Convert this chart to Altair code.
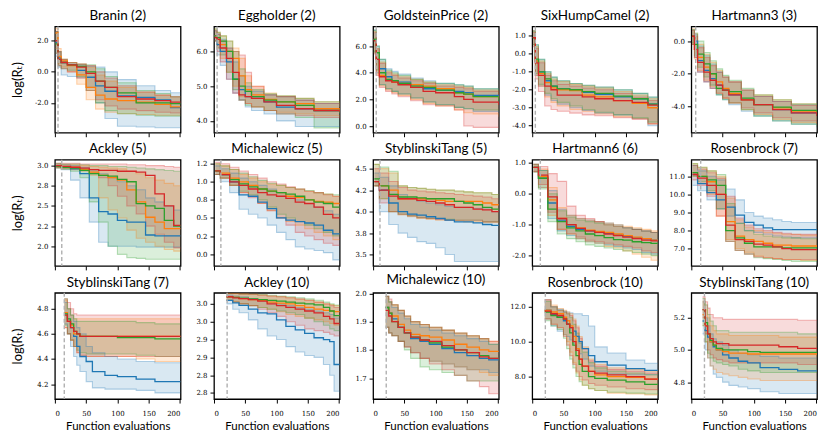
import altair as alt
import pandas as pd

SERIES = ["blue", "orange", "green", "red"]
COLORS = ["#1f77b4", "#ff7f0e", "#2ca02c", "#d62728"]

TITLES = ["Branin (2)", "Eggholder (2)", "GoldsteinPrice (2)", "SixHumpCamel (2)", "Hartmann3 (3)",
          "Ackley (5)", "Michalewicz (5)", "StyblinskiTang (5)", "Hartmann6 (6)", "Rosenbrock (7)",
          "StyblinskiTang (7)", "Ackley (10)", "Michalewicz (10)", "Rosenbrock (10)", "StyblinskiTang (10)"]
INIT = [5, 5, 5, 5, 7, 11, 11, 11, 13, 15, 15, 21, 21, 21, 21]
YDOM = [[-3.92, 2.92], [3.66, 6.72], [-0.5, 7.47], [-4.39, 1.52], [-5.62, 0.9],
        [1.757, 3.074], [-0.163, 1.306], [3.368, 4.605], [-2.33, 1.1], [6.05, 11.92],
        [4.081, 4.927], [2.733, 3.031], [1.626, 2.002], [6.71, 12.8], [4.695, 5.355]]
YTICKS = [[2, 0, -2], [6, 5, 4], [6, 4, 2, 0], [1, 0, -1, -2, -3, -4], [0, -2, -4],
          [3.0, 2.75, 2.5, 2.25, 2.0], [1.25, 1.0, 0.75, 0.5, 0.25, 0.0], [4.5, 4.25, 4.0, 3.75, 3.5],
          [1, 0, -1, -2], [11, 10, 9, 8, 7],
          [4.8, 4.6, 4.4, 4.2], [3.0, 2.95, 2.9, 2.85, 2.8, 2.75], [2.0, 1.9, 1.8, 1.7], [12, 10, 8], [5.2, 5.0, 4.8]]
YLABELS = [["2.0", "0.0", "-2.0"], ["6.0", "5.0", "4.0"], ["6.0", "4.0", "2.0", "0.0"],
           ["1.0", "0.0", "-1.0", "-2.0", "-3.0", "-4.0"], ["0.0", "-2.0", "-4.0"],
           ["3.0", "2.8", "2.5", "2.2", "2.0"], ["1.2", "1.0", "0.8", "0.5", "0.2", "0.0"],
           ["4.5", "4.2", "4.0", "3.8", "3.5"], ["1.0", "0.0", "-1.0", "-2.0"],
           ["11.0", "10.0", "9.0", "8.0", "7.0"],
           ["4.8", "4.6", "4.4", "4.2"], ["3.0", "3.0", "2.9", "2.9", "2.8", "2.8"],
           ["2.0", "1.9", "1.8", "1.7"], ["12.0", "10.0", "8.0"], ["5.2", "5.0", "4.8"]]
XTICKS = [0, 50, 100, 150, 200]
X_LABEL = "Function evaluations"
Y_LABEL = "log(Rₜ)"

# ---- per-panel step data: x grid, then [blue, orange, green, red] ----
branin_x = [1, 5, 10, 20, 35, 50, 65, 80, 100, 130, 160, 185, 201]
branin_med = [[1.9, 0.9, 0.6, 0.45, 0.1, -0.35, -0.9, -1.25, -1.55, -1.65, -1.8, -2.3, -2.3],
              [2.5, 1.0, 0.7, 0.4, -0.2, -1.0, -1.5, -1.75, -1.85, -1.95, -2.1, -2.25, -2.25],
              [1.8, 0.8, 0.6, 0.45, 0.35, 0.0, -0.6, -1.0, -1.35, -2.0, -2.0, -2.05, -2.05],
              [2.0, 0.8, 0.6, 0.45, 0.3, -0.1, -0.6, -1.0, -1.6, -1.75, -1.85, -1.95, -1.95]]
branin_lo = [[1.0, 0.3, -0.2, -0.3, -0.4, -1.0, -2.0, -3.0, -3.5, -3.55, -3.6, -3.6, -3.6],
             [1.5, 0.5, 0.3, 0.0, -0.8, -1.8, -2.4, -2.6, -2.7, -2.75, -2.8, -2.8, -2.8],
             [1.2, 0.4, 0.2, 0.1, -0.3, -1.2, -2.0, -2.5, -2.7, -2.8, -2.85, -2.85, -2.85],
             [1.2, 0.4, 0.2, 0.0, -0.4, -1.2, -1.8, -2.2, -2.4, -2.5, -2.6, -2.65, -2.65]]
branin_hi = [[2.6, 1.3, 0.7, 0.5, 0.45, 0.35, 0.3, 0.0, -0.5, -0.9, -1.2, -1.35, -1.35],
             [2.8, 1.5, 0.8, 0.6, 0.5, 0.3, -0.2, -0.6, -1.0, -1.3, -1.5, -1.6, -1.6],
             [2.6, 1.3, 0.8, 0.6, 0.5, 0.45, 0.2, -0.3, -0.7, -1.2, -1.4, -1.6, -1.6],
             [2.6, 1.3, 0.8, 0.6, 0.5, 0.4, 0.0, -0.4, -0.9, -1.3, -1.5, -1.6, -1.6]]

egg_x = [1, 5, 10, 20, 30, 40, 50, 60, 80, 100, 130, 160, 201]
egg_med = [[6.45, 6.2, 6.0, 5.7, 5.2, 4.9, 4.7, 4.65, 4.55, 4.4, 4.35, 4.3, 4.22],
           [6.45, 6.4, 6.2, 6.0, 5.8, 5.3, 4.9, 4.75, 4.62, 4.55, 4.5, 4.35, 4.25],
           [6.45, 6.4, 6.3, 6.0, 5.2, 5.0, 4.85, 4.7, 4.6, 4.55, 4.45, 4.3, 4.22],
           [6.4, 6.35, 6.1, 5.8, 5.4, 4.75, 4.7, 4.65, 4.55, 4.45, 4.35, 4.3, 4.25]]
egg_lo = [[6.3, 5.9, 5.6, 5.2, 4.8, 4.6, 4.4, 4.3, 4.2, 4.0, 3.84, 3.84, 3.84],
          [6.3, 6.1, 5.8, 5.4, 5.0, 4.7, 4.5, 4.4, 4.3, 4.25, 4.2, 4.15, 4.1],
          [6.3, 6.1, 5.9, 5.4, 4.9, 4.6, 4.45, 4.4, 4.3, 4.2, 4.1, 3.8, 3.8],
          [6.3, 6.0, 5.7, 5.2, 4.8, 4.6, 4.5, 4.4, 4.3, 4.2, 4.15, 4.1, 4.05]]
egg_hi = [[6.6, 6.5, 6.35, 6.1, 5.7, 5.3, 5.0, 4.85, 4.75, 4.7, 4.6, 4.5, 4.4],
          [6.65, 6.55, 6.45, 6.3, 6.1, 5.8, 5.3, 5.0, 4.8, 4.72, 4.65, 4.55, 4.4],
          [6.65, 6.55, 6.45, 6.3, 6.0, 5.5, 5.1, 4.9, 4.78, 4.72, 4.65, 4.55, 4.4],
          [6.6, 6.5, 6.3, 6.1, 6.0, 5.9, 5.4, 5.0, 4.75, 4.7, 4.6, 4.5, 4.4]]

gp_x = [1, 5, 10, 20, 30, 40, 60, 80, 100, 130, 145, 160, 201]
gp_med = [[6.5, 5.0, 4.3, 3.7, 3.4, 3.3, 3.1, 2.8, 2.7, 2.6, 2.5, 2.3, 2.0],
          [6.5, 5.0, 3.8, 3.5, 3.3, 3.2, 3.1, 3.0, 2.8, 2.5, 2.4, 2.2, 2.0],
          [6.5, 5.5, 4.0, 3.5, 3.4, 3.2, 3.0, 2.9, 2.7, 2.5, 2.4, 2.2, 1.9],
          [6.4, 5.0, 3.7, 3.4, 3.3, 3.1, 2.9, 2.6, 2.5, 2.2, 2.0, 1.8, 1.6]]
gp_lo = [[5.5, 4.0, 3.1, 2.8, 2.6, 2.4, 2.1, 1.8, 1.6, 1.4, 1.3, 1.1, 1.0],
         [5.5, 3.9, 3.0, 2.7, 2.5, 2.3, 2.0, 1.7, 1.5, 1.2, 1.0, 0.9, 0.7],
         [5.6, 4.2, 3.1, 2.8, 2.6, 2.4, 2.1, 1.8, 1.6, 1.4, 1.3, 1.2, 1.1],
         [5.4, 3.8, 2.9, 2.6, 2.4, 2.2, 1.9, 1.6, 1.5, 1.2, 0.0, -0.1, -0.1]]
gp_hi = [[7.2, 6.0, 5.0, 4.3, 4.1, 3.9, 3.6, 3.4, 3.2, 3.1, 3.0, 2.8, 2.5],
         [7.1, 5.8, 4.8, 4.1, 3.9, 3.7, 3.5, 3.3, 3.1, 3.0, 2.9, 2.7, 2.4],
         [7.2, 6.0, 5.0, 4.2, 4.0, 3.8, 3.5, 3.3, 3.2, 3.1, 3.0, 2.8, 2.5],
         [7.0, 5.8, 4.7, 4.0, 3.8, 3.6, 3.4, 3.2, 3.0, 2.9, 2.8, 2.6, 2.3]]

shc_x = [1, 5, 10, 20, 30, 40, 60, 80, 100, 130, 160, 185, 201]
shc_med = [[0.9, -0.4, -1.0, -1.5, -1.8, -1.95, -2.0, -2.15, -2.25, -2.4, -2.5, -2.8, -2.8],
           [0.9, -0.4, -1.1, -1.6, -1.9, -2.0, -2.05, -2.3, -2.4, -2.6, -2.75, -3.0, -3.0],
           [0.9, -0.3, -1.0, -1.4, -1.8, -1.95, -2.0, -2.1, -2.2, -2.35, -2.5, -2.8, -2.8],
           [0.9, -0.5, -1.2, -1.8, -2.0, -2.3, -2.3, -2.4, -2.5, -2.6, -2.7, -2.85, -2.85]]
shc_lo = [[0.5, -1.2, -1.8, -2.3, -2.6, -2.8, -3.0, -3.15, -3.3, -3.4, -3.6, -4.0, -4.0],
          [0.5, -1.2, -1.8, -2.4, -2.7, -2.9, -3.1, -3.2, -3.35, -3.5, -3.6, -3.9, -3.9],
          [0.5, -1.1, -1.7, -2.2, -2.5, -2.7, -2.9, -3.1, -3.25, -3.4, -3.55, -3.8, -3.8],
          [0.4, -1.4, -2.1, -2.9, -3.1, -3.2, -3.3, -3.4, -3.45, -3.55, -3.65, -3.9, -3.9]]
shc_hi = [[1.3, 0.5, -0.3, -1.0, -1.3, -1.5, -1.65, -1.75, -1.85, -2.0, -2.2, -2.4, -2.4],
          [1.3, 0.4, -0.4, -1.1, -1.4, -1.55, -1.7, -1.8, -1.9, -2.1, -2.3, -2.5, -2.5],
          [1.25, 0.5, -0.3, -1.0, -1.3, -1.5, -1.65, -1.75, -1.85, -2.0, -2.2, -2.4, -2.4],
          [1.2, 0.3, -0.5, -1.2, -1.5, -1.7, -1.8, -1.9, -2.0, -2.2, -2.4, -2.6, -2.6]]

h3_x = [1, 5, 10, 20, 30, 40, 50, 60, 80, 100, 130, 160, 201]
h3_med = [[0.3, 0.0, -1.2, -1.8, -2.3, -2.7, -3.0, -3.3, -3.6, -3.9, -4.2, -4.4, -4.55],
          [0.3, -0.5, -1.0, -1.6, -2.0, -2.5, -2.9, -3.2, -3.6, -3.9, -4.1, -4.3, -4.5],
          [0.3, -0.2, -0.8, -1.4, -2.0, -2.9, -3.0, -3.1, -3.5, -3.9, -4.05, -4.25, -4.45],
          [0.3, -0.5, -1.3, -1.9, -2.4, -2.7, -3.0, -3.3, -3.6, -3.9, -4.2, -4.4, -4.6]]
h3_lo = [[-0.2, -1.0, -1.9, -2.5, -2.9, -3.3, -3.6, -3.9, -4.3, -4.6, -4.9, -5.1, -5.3],
         [-0.2, -1.1, -1.8, -2.4, -2.8, -3.2, -3.5, -3.8, -4.2, -4.5, -4.8, -5.0, -5.2],
         [-0.1, -0.9, -1.6, -2.2, -2.7, -3.3, -3.6, -3.8, -4.2, -4.6, -4.9, -5.1, -5.25],
         [-0.2, -1.0, -1.9, -2.5, -2.9, -3.2, -3.5, -3.8, -4.1, -4.4, -4.7, -4.9, -5.1]]
h3_hi = [[0.7, 0.4, -0.3, -0.9, -1.4, -1.9, -2.2, -2.5, -3.0, -3.4, -3.7, -3.9, -4.1],
         [0.75, 0.45, -0.2, -0.8, -1.3, -1.8, -2.2, -2.5, -3.0, -3.3, -3.6, -3.85, -4.05],
         [0.7, 0.5, 0.0, -0.7, -1.2, -1.7, -2.1, -2.4, -2.9, -3.3, -3.6, -3.85, -4.0],
         [0.65, 0.3, -0.4, -1.0, -1.5, -1.9, -2.2, -2.5, -3.0, -3.4, -3.7, -3.95, -4.15]]

ack5_x = [2, 10, 25, 40, 55, 70, 85, 100, 115, 130, 145, 160, 175, 190, 201]
ack5_med = [[2.99, 2.98, 2.96, 2.9, 2.6, 2.43, 2.4, 2.32, 2.3, 2.3, 2.14, 2.13, 2.13, 2.13, 2.13],
            [2.99, 2.98, 2.98, 2.95, 2.92, 2.88, 2.85, 2.82, 2.7, 2.55, 2.36, 2.3, 2.22, 2.22, 2.22],
            [2.99, 2.98, 2.97, 2.94, 2.9, 2.88, 2.87, 2.83, 2.8, 2.53, 2.5, 2.47, 2.32, 2.25, 2.25],
            [3.0, 2.99, 2.98, 2.97, 2.95, 2.94, 2.94, 2.93, 2.93, 2.92, 2.88, 2.65, 2.5, 2.26, 2.26]]
ack5_lo = [[2.97, 2.95, 2.82, 2.6, 2.3, 2.05, 2.0, 2.0, 2.0, 1.99, 1.99, 1.99, 1.99, 1.99, 1.99],
           [2.97, 2.96, 2.95, 2.93, 2.88, 2.6, 2.45, 2.35, 2.2, 2.1, 2.05, 2.0, 1.96, 1.94, 1.94],
           [2.97, 2.96, 2.93, 2.85, 2.55, 2.3, 2.0, 1.9, 1.86, 1.85, 1.84, 1.84, 1.84, 1.84, 1.84],
           [2.98, 2.97, 2.96, 2.94, 2.9, 2.85, 2.75, 2.62, 2.5, 2.4, 2.25, 2.15, 2.05, 1.98, 1.96]]
ack5_hi = [[3.02, 3.01, 3.0, 2.98, 2.95, 2.9, 2.85, 2.8, 2.75, 2.7, 2.6, 2.55, 2.5, 2.45, 2.45],
           [3.02, 3.01, 3.01, 3.0, 2.99, 2.98, 2.97, 2.96, 2.93, 2.9, 2.85, 2.82, 2.78, 2.75, 2.75],
           [3.03, 3.02, 3.02, 3.01, 3.0, 3.0, 2.99, 2.99, 2.98, 2.97, 2.96, 2.95, 2.94, 2.93, 2.93],
           [3.03, 3.03, 3.03, 3.02, 3.02, 3.02, 3.02, 3.02, 3.01, 3.01, 3.0, 3.0, 2.99, 2.98, 2.98]]

mic5_x = [2, 10, 25, 40, 55, 70, 85, 100, 115, 130, 145, 160, 175, 190, 201]
mic5_med = [[1.15, 1.1, 1.0, 0.82, 0.8, 0.72, 0.63, 0.5, 0.47, 0.45, 0.43, 0.4, 0.33, 0.28, 0.28],
            [1.15, 1.12, 1.05, 1.0, 0.95, 0.9, 0.87, 0.85, 0.8, 0.78, 0.75, 0.73, 0.72, 0.7, 0.7],
            [1.15, 1.1, 1.03, 0.97, 0.93, 0.9, 0.87, 0.85, 0.83, 0.8, 0.75, 0.72, 0.7, 0.65, 0.65],
            [1.15, 1.1, 1.0, 0.95, 0.9, 0.85, 0.82, 0.8, 0.77, 0.72, 0.7, 0.65, 0.55, 0.5, 0.5]]
mic5_lo = [[1.1, 1.0, 0.85, 0.62, 0.55, 0.5, 0.4, 0.3, 0.2, 0.1, 0.07, 0.05, 0.02, -0.08, -0.08],
           [1.1, 1.05, 0.95, 0.85, 0.8, 0.7, 0.6, 0.5, 0.45, 0.4, 0.35, 0.3, 0.25, 0.2, 0.2],
           [1.1, 1.05, 0.95, 0.87, 0.82, 0.75, 0.65, 0.55, 0.5, 0.45, 0.4, 0.35, 0.3, 0.25, 0.25],
           [1.1, 1.05, 0.95, 0.85, 0.78, 0.7, 0.6, 0.5, 0.4, 0.3, 0.25, 0.2, 0.15, 0.12, 0.12]]
mic5_hi = [[1.22, 1.18, 1.12, 1.05, 1.0, 0.95, 0.9, 0.85, 0.8, 0.75, 0.7, 0.65, 0.6, 0.55, 0.55],
           [1.25, 1.22, 1.17, 1.1, 1.05, 1.0, 0.97, 0.95, 0.92, 0.9, 0.87, 0.85, 0.83, 0.8, 0.8],
           [1.25, 1.22, 1.17, 1.12, 1.07, 1.02, 0.98, 0.95, 0.92, 0.9, 0.88, 0.85, 0.83, 0.82, 0.82],
           [1.27, 1.25, 1.2, 1.15, 1.1, 1.05, 1.0, 0.97, 0.93, 0.9, 0.87, 0.85, 0.82, 0.8, 0.8]]

st5_x = [2, 10, 25, 40, 55, 70, 85, 100, 115, 130, 145, 160, 175, 190, 201]
st5_med = [[4.35, 4.25, 4.1, 4.0, 3.97, 3.96, 3.94, 3.92, 3.9, 3.88, 3.88, 3.87, 3.85, 3.84, 3.84],
           [4.35, 4.3, 4.25, 4.15, 4.15, 4.15, 4.15, 4.13, 4.12, 4.12, 4.12, 4.12, 4.1, 4.08, 4.08],
           [4.38, 4.3, 4.2, 4.17, 4.17, 4.16, 4.15, 4.15, 4.15, 4.12, 4.1, 4.08, 4.05, 4.03, 4.03],
           [4.35, 4.25, 4.18, 4.15, 4.15, 4.13, 4.12, 4.1, 4.08, 4.05, 4.05, 4.03, 4.02, 4.0, 4.0]]
st5_lo = [[4.3, 4.0, 3.85, 3.75, 3.7, 3.65, 3.63, 3.58, 3.5, 3.42, 3.42, 3.42, 3.42, 3.42, 3.42],
          [4.3, 4.15, 4.0, 3.96, 3.94, 3.92, 3.91, 3.9, 3.9, 3.89, 3.88, 3.88, 3.87, 3.87, 3.87],
          [4.3, 4.15, 4.0, 3.97, 3.95, 3.93, 3.92, 3.92, 3.91, 3.9, 3.9, 3.9, 3.88, 3.88, 3.88],
          [4.3, 4.1, 4.0, 3.97, 3.95, 3.93, 3.92, 3.91, 3.9, 3.9, 3.9, 3.9, 3.88, 3.88, 3.88]]
st5_hi = [[4.45, 4.4, 4.3, 4.2, 4.15, 4.12, 4.1, 4.08, 4.06, 4.05, 4.05, 4.04, 4.03, 4.0, 4.0],
          [4.55, 4.5, 4.45, 4.3, 4.28, 4.27, 4.26, 4.25, 4.25, 4.24, 4.23, 4.22, 4.22, 4.2, 4.2],
          [4.55, 4.52, 4.47, 4.3, 4.28, 4.27, 4.26, 4.25, 4.25, 4.24, 4.23, 4.22, 4.22, 4.2, 4.2],
          [4.5, 4.45, 4.35, 4.28, 4.25, 4.24, 4.23, 4.22, 4.21, 4.2, 4.19, 4.18, 4.17, 4.15, 4.15]]

h6_x = [2, 10, 25, 40, 55, 70, 85, 100, 115, 130, 145, 160, 175, 190, 201]
h6_med = [[0.85, 0.5, -0.3, -0.85, -1.05, -1.15, -1.2, -1.25, -1.28, -1.32, -1.38, -1.42, -1.45, -1.5, -1.5],
          [0.85, 0.55, -0.2, -0.8, -1.0, -1.1, -1.18, -1.22, -1.25, -1.3, -1.35, -1.4, -1.45, -1.5, -1.5],
          [0.85, 0.5, -0.5, -0.9, -1.1, -1.2, -1.3, -1.35, -1.42, -1.48, -1.5, -1.55, -1.58, -1.6, -1.6],
          [0.85, 0.6, -0.1, -0.8, -1.0, -1.12, -1.2, -1.25, -1.3, -1.35, -1.4, -1.45, -1.5, -1.52, -1.52]]
h6_lo = [[0.7, 0.2, -0.8, -1.2, -1.35, -1.45, -1.55, -1.6, -1.65, -1.7, -1.75, -1.8, -1.9, -1.95, -1.95],
         [0.7, 0.2, -0.7, -1.15, -1.3, -1.45, -1.55, -1.6, -1.7, -1.75, -1.85, -1.95, -2.05, -2.15, -2.15],
         [0.7, 0.15, -0.9, -1.3, -1.45, -1.55, -1.65, -1.7, -1.75, -1.8, -1.85, -1.9, -1.95, -2.0, -2.0],
         [0.72, 0.3, -0.6, -1.15, -1.3, -1.4, -1.5, -1.55, -1.6, -1.65, -1.7, -1.75, -1.85, -1.9, -1.9]]
h6_hi = [[0.95, 0.75, 0.1, -0.5, -0.7, -0.8, -0.85, -0.9, -0.95, -1.0, -1.1, -1.15, -1.2, -1.25, -1.25],
         [0.95, 0.8, 0.2, -0.45, -0.7, -0.8, -0.85, -0.9, -0.95, -1.0, -1.05, -1.1, -1.15, -1.2, -1.2],
         [0.95, 0.75, 0.0, -0.55, -0.75, -0.85, -0.9, -0.95, -1.0, -1.05, -1.1, -1.15, -1.2, -1.25, -1.25],
         [0.95, 0.88, 0.65, 0.4, -0.4, -0.7, -0.8, -0.9, -1.0, -1.05, -1.1, -1.15, -1.2, -1.25, -1.25]]

ros7_x = [2, 10, 25, 40, 55, 70, 85, 100, 115, 130, 145, 160, 175, 190, 201]
ros7_med = [[11.1, 10.6, 10.1, 9.7, 9.3, 8.85, 8.45, 8.3, 8.15, 8.05, 8.05, 8.05, 8.05, 8.05, 8.05],
            [11.2, 11.0, 10.7, 10.0, 8.5, 7.7, 7.5, 7.4, 7.3, 7.2, 7.2, 7.15, 7.15, 7.15, 7.15],
            [11.2, 11.0, 10.8, 10.5, 8.0, 7.6, 7.3, 7.1, 7.1, 7.1, 7.05, 7.05, 7.05, 7.05, 7.05],
            [11.1, 10.9, 10.5, 10.0, 8.3, 7.5, 7.4, 7.25, 7.2, 7.1, 7.0, 6.95, 6.95, 6.95, 6.95]]
ros7_lo = [[10.5, 10.2, 9.7, 9.2, 8.8, 8.4, 8.0, 7.9, 7.8, 7.7, 7.65, 7.6, 7.6, 7.6, 7.6],
           [11.0, 10.6, 10.0, 8.8, 7.5, 7.0, 6.8, 6.6, 6.5, 6.45, 6.4, 6.4, 6.35, 6.35, 6.35],
           [11.0, 10.7, 10.2, 9.2, 7.4, 6.9, 6.7, 6.5, 6.45, 6.4, 6.35, 6.3, 6.3, 6.3, 6.3],
           [10.8, 10.5, 9.9, 8.8, 7.4, 6.9, 6.7, 6.55, 6.5, 6.45, 6.4, 6.4, 6.4, 6.4, 6.4]]
ros7_hi = [[11.6, 11.3, 11.0, 10.8, 10.3, 9.7, 9.0, 8.8, 8.7, 8.6, 8.5, 8.45, 8.45, 8.45, 8.45],
           [11.7, 11.5, 11.3, 11.0, 9.8, 8.6, 8.2, 8.0, 7.9, 7.85, 7.8, 7.8, 7.75, 7.75, 7.75],
           [11.7, 11.5, 11.3, 11.1, 9.5, 8.4, 8.0, 7.8, 7.7, 7.65, 7.6, 7.6, 7.55, 7.55, 7.55],
           [11.6, 11.4, 11.2, 10.9, 9.9, 8.7, 8.3, 8.1, 8.0, 7.9, 7.85, 7.8, 7.8, 7.8, 7.8]]

st7_x = [15, 20, 25, 30, 35, 40, 50, 60, 80, 100, 130, 160, 201]
st7_med = [[4.77, 4.7, 4.65, 4.58, 4.5, 4.42, 4.38, 4.3, 4.27, 4.26, 4.24, 4.22, 4.22],
           [4.77, 4.7, 4.67, 4.6, 4.6, 4.58, 4.58, 4.58, 4.58, 4.58, 4.58, 4.58, 4.58],
           [4.76, 4.72, 4.68, 4.62, 4.6, 4.58, 4.58, 4.58, 4.58, 4.57, 4.57, 4.56, 4.56],
           [4.75, 4.7, 4.65, 4.62, 4.6, 4.58, 4.58, 4.58, 4.58, 4.58, 4.58, 4.58, 4.58]]
st7_lo = [[4.68, 4.6, 4.5, 4.42, 4.35, 4.3, 4.22, 4.17, 4.16, 4.16, 4.15, 4.13, 4.13],
          [4.65, 4.6, 4.55, 4.5, 4.45, 4.43, 4.42, 4.42, 4.42, 4.42, 4.4, 4.38, 4.38],
          [4.67, 4.6, 4.55, 4.5, 4.47, 4.45, 4.44, 4.44, 4.44, 4.44, 4.43, 4.42, 4.42],
          [4.65, 4.6, 4.55, 4.5, 4.45, 4.43, 4.42, 4.42, 4.42, 4.42, 4.42, 4.42, 4.42]]
st7_hi = [[4.85, 4.8, 4.75, 4.7, 4.65, 4.6, 4.5, 4.45, 4.42, 4.4, 4.38, 4.37, 4.37],
          [4.87, 4.8, 4.75, 4.72, 4.72, 4.72, 4.72, 4.72, 4.72, 4.72, 4.72, 4.72, 4.72],
          [4.88, 4.8, 4.75, 4.72, 4.7, 4.7, 4.7, 4.7, 4.7, 4.7, 4.69, 4.68, 4.68],
          [4.88, 4.85, 4.8, 4.76, 4.75, 4.75, 4.75, 4.75, 4.75, 4.75, 4.75, 4.75, 4.75]]

ack10_x = [20, 30, 40, 55, 70, 85, 100, 115, 130, 145, 160, 175, 185, 192, 201]
ack10_med = [[3.01, 3.003, 2.996, 2.985, 2.975, 2.972, 2.955, 2.937, 2.927, 2.917, 2.905, 2.9, 2.894, 2.83, 2.83],
             [3.02, 3.018, 3.015, 3.012, 3.01, 3.005, 3.002, 3.0, 2.995, 2.99, 2.985, 2.982, 2.98, 2.978, 2.978],
             [3.02, 3.018, 3.016, 3.014, 3.012, 3.01, 3.008, 3.005, 3.002, 3.0, 2.997, 2.99, 2.98, 2.967, 2.967],
             [3.02, 3.017, 3.015, 3.012, 3.008, 3.0, 2.995, 2.99, 2.985, 2.98, 2.975, 2.965, 2.958, 2.945, 2.945]]
ack10_lo = [[3.0, 2.985, 2.975, 2.955, 2.93, 2.91, 2.9, 2.88, 2.865, 2.855, 2.85, 2.83, 2.8, 2.755, 2.75],
            [3.01, 3.005, 3.0, 2.995, 2.99, 2.985, 2.978, 2.97, 2.965, 2.96, 2.955, 2.95, 2.945, 2.94, 2.94],
            [3.01, 3.005, 3.0, 2.995, 2.99, 2.985, 2.98, 2.975, 2.97, 2.96, 2.95, 2.94, 2.93, 2.925, 2.925],
            [3.01, 3.005, 3.0, 2.995, 2.985, 2.975, 2.965, 2.95, 2.94, 2.93, 2.925, 2.92, 2.915, 2.91, 2.91]]
ack10_hi = [[3.025, 3.022, 3.02, 3.015, 3.01, 3.005, 3.0, 2.995, 2.99, 2.985, 2.98, 2.975, 2.97, 2.96, 2.96],
            [3.03, 3.029, 3.028, 3.027, 3.025, 3.022, 3.02, 3.017, 3.013, 3.01, 3.005, 3.0, 2.998, 2.995, 2.995],
            [3.03, 3.029, 3.028, 3.027, 3.026, 3.024, 3.022, 3.02, 3.017, 3.014, 3.01, 3.005, 3.0, 2.997, 2.997],
            [3.03, 3.029, 3.028, 3.027, 3.025, 3.022, 3.02, 3.017, 3.014, 3.01, 3.005, 3.0, 2.995, 2.99, 2.99]]

mic10_x = [20, 25, 30, 40, 50, 60, 75, 90, 110, 130, 150, 170, 185, 201]
mic10_med = [[1.95, 1.93, 1.91, 1.88, 1.86, 1.84, 1.83, 1.82, 1.805, 1.79, 1.78, 1.77, 1.765, 1.765],
             [1.95, 1.93, 1.92, 1.89, 1.87, 1.855, 1.85, 1.845, 1.835, 1.82, 1.81, 1.8, 1.795, 1.795],
             [1.95, 1.93, 1.9, 1.88, 1.86, 1.845, 1.835, 1.825, 1.81, 1.8, 1.79, 1.78, 1.77, 1.77],
             [1.94, 1.92, 1.9, 1.88, 1.86, 1.845, 1.835, 1.83, 1.815, 1.8, 1.79, 1.775, 1.77, 1.77]]
mic10_lo = [[1.88, 1.86, 1.85, 1.83, 1.81, 1.79, 1.77, 1.76, 1.75, 1.74, 1.73, 1.73, 1.72, 1.72],
            [1.88, 1.86, 1.85, 1.83, 1.81, 1.79, 1.77, 1.76, 1.75, 1.74, 1.73, 1.72, 1.71, 1.71],
            [1.88, 1.86, 1.85, 1.83, 1.8, 1.77, 1.74, 1.73, 1.72, 1.71, 1.69, 1.69, 1.69, 1.69],
            [1.88, 1.86, 1.85, 1.83, 1.81, 1.79, 1.77, 1.75, 1.73, 1.71, 1.69, 1.67, 1.645, 1.645]]
mic10_hi = [[1.99, 1.97, 1.95, 1.93, 1.91, 1.89, 1.88, 1.87, 1.86, 1.85, 1.84, 1.83, 1.82, 1.82],
            [1.99, 1.97, 1.96, 1.94, 1.92, 1.9, 1.89, 1.88, 1.87, 1.86, 1.85, 1.84, 1.83, 1.83],
            [1.99, 1.97, 1.96, 1.94, 1.92, 1.9, 1.89, 1.88, 1.87, 1.86, 1.85, 1.84, 1.82, 1.82],
            [1.99, 1.98, 1.96, 1.94, 1.92, 1.9, 1.89, 1.88, 1.87, 1.86, 1.85, 1.84, 1.83, 1.83]]

ros10_x = [20, 30, 40, 50, 55, 60, 65, 70, 75, 80, 90, 100, 120, 150, 180, 201]
ros10_med = [[11.8, 11.55, 11.4, 11.2, 11.0, 10.8, 10.6, 10.3, 10.0, 9.6, 9.2, 8.85, 8.65, 8.45, 8.35, 8.35],
             [11.8, 11.7, 11.6, 11.4, 11.2, 10.9, 10.3, 9.6, 9.0, 8.6, 8.3, 8.1, 8.0, 7.95, 7.85, 7.85],
             [11.7, 11.5, 11.4, 11.3, 11.0, 10.5, 9.8, 9.2, 8.7, 8.3, 8.0, 7.9, 7.8, 7.7, 7.55, 7.55],
             [11.75, 11.6, 11.5, 11.3, 11.0, 10.8, 10.0, 9.5, 9.0, 8.6, 8.3, 8.2, 8.1, 8.0, 7.85, 7.85]]
ros10_lo = [[11.3, 10.9, 10.6, 10.4, 10.3, 10.1, 9.9, 9.6, 9.3, 9.0, 8.6, 8.3, 8.15, 8.1, 8.1, 8.1],
            [11.3, 11.0, 10.8, 10.4, 10.0, 9.4, 8.8, 8.2, 7.8, 7.5, 7.3, 7.2, 7.05, 7.0, 6.95, 6.95],
            [11.2, 10.9, 10.7, 10.2, 9.6, 9.0, 8.5, 8.0, 7.7, 7.5, 7.3, 7.2, 7.1, 7.05, 7.0, 7.0],
            [11.3, 11.0, 10.8, 10.3, 9.8, 9.2, 8.7, 8.3, 8.0, 7.8, 7.6, 7.5, 7.4, 7.3, 7.25, 7.25]]
ros10_hi = [[12.4, 12.0, 11.85, 11.75, 11.7, 11.65, 11.6, 11.6, 11.6, 11.5, 10.9, 9.7, 9.35, 8.95, 8.76, 8.76],
            [12.4, 12.1, 11.9, 11.8, 11.7, 11.6, 11.3, 10.9, 10.3, 9.7, 9.0, 8.7, 8.5, 8.4, 8.3, 8.3],
            [12.3, 12.0, 11.8, 11.7, 11.6, 11.4, 11.0, 10.5, 9.9, 9.4, 8.8, 8.5, 8.3, 8.2, 8.1, 8.1],
            [12.4, 12.0, 11.8, 11.7, 11.6, 11.5, 11.2, 10.8, 10.2, 9.6, 8.9, 8.6, 8.4, 8.3, 8.2, 8.2]]

st10_x = [18, 22, 26, 30, 35, 40, 50, 60, 75, 90, 110, 140, 170, 201]
st10_med = [[5.18, 5.12, 5.08, 5.05, 5.02, 5.0, 4.97, 4.95, 4.93, 4.92, 4.89, 4.88, 4.87, 4.87],
            [5.22, 5.15, 5.1, 5.05, 5.03, 5.0, 4.99, 4.98, 4.98, 4.975, 4.975, 4.975, 4.975, 4.975],
            [5.25, 5.17, 5.1, 5.06, 5.03, 5.01, 5.0, 5.0, 5.0, 4.99, 4.985, 4.985, 4.985, 4.985],
            [5.25, 5.15, 5.1, 5.07, 5.05, 5.04, 5.04, 5.03, 5.03, 5.03, 5.03, 5.02, 5.01, 5.01]]
st10_lo = [[5.1, 5.0, 4.95, 4.9, 4.85, 4.83, 4.8, 4.78, 4.77, 4.76, 4.74, 4.73, 4.73, 4.73],
           [5.15, 5.05, 4.95, 4.9, 4.88, 4.86, 4.85, 4.84, 4.83, 4.82, 4.81, 4.81, 4.81, 4.81],
           [5.15, 5.05, 4.98, 4.95, 4.93, 4.92, 4.91, 4.9, 4.88, 4.87, 4.86, 4.86, 4.86, 4.86],
           [5.2, 5.1, 5.0, 4.97, 4.95, 4.94, 4.93, 4.92, 4.92, 4.92, 4.92, 4.92, 4.91, 4.91]]
st10_hi = [[5.3, 5.2, 5.15, 5.1, 5.07, 5.05, 5.03, 5.0, 4.98, 4.97, 4.96, 4.95, 4.95, 4.95],
           [5.3, 5.25, 5.2, 5.15, 5.12, 5.1, 5.1, 5.09, 5.09, 5.09, 5.09, 5.08, 5.08, 5.08],
           [5.32, 5.28, 5.22, 5.18, 5.15, 5.12, 5.12, 5.11, 5.11, 5.11, 5.11, 5.11, 5.1, 5.1],
           [5.33, 5.3, 5.26, 5.22, 5.2, 5.2, 5.19, 5.19, 5.19, 5.19, 5.19, 5.19, 5.185, 5.185]]

PANELS = [(branin_x, branin_med, branin_lo, branin_hi), (egg_x, egg_med, egg_lo, egg_hi),
          (gp_x, gp_med, gp_lo, gp_hi), (shc_x, shc_med, shc_lo, shc_hi), (h3_x, h3_med, h3_lo, h3_hi),
          (ack5_x, ack5_med, ack5_lo, ack5_hi), (mic5_x, mic5_med, mic5_lo, mic5_hi),
          (st5_x, st5_med, st5_lo, st5_hi), (h6_x, h6_med, h6_lo, h6_hi), (ros7_x, ros7_med, ros7_lo, ros7_hi),
          (st7_x, st7_med, st7_lo, st7_hi), (ack10_x, ack10_med, ack10_lo, ack10_hi),
          (mic10_x, mic10_med, mic10_lo, mic10_hi), (ros10_x, ros10_med, ros10_lo, ros10_hi),
          (st10_x, st10_med, st10_lo, st10_hi)]

PW, PH = 126, 106.5
TITLE_FONT = "Lato, DejaVu Sans"
TICK_FONT = "DejaVu Serif"


def label_expr(ticks, labels):
    expr = "''"
    for t, l in reversed(list(zip(ticks, labels))):
        expr = f"abs(datum.value - ({t})) < 1e-9 ? '{l}' : ({expr})"
    return expr


def make_panel(i):
    xs, med, lo, hi = PANELS[i]
    recs = []
    for s, name in enumerate(SERIES):
        for k, xv in enumerate(xs):
            recs.append({"series": name, "x": xv, "med": med[s][k], "lo": lo[s][k], "hi": hi[s][k]})
    df = pd.DataFrame(recs)
    r, c = divmod(i, 5)

    xkw = dict(values=XTICKS, grid=False)
    if r == 2:
        xkw.update(title=X_LABEL)
    else:
        xkw.update(labels=False, title=None)
    xenc = alt.X("x:Q", scale=alt.Scale(domain=[0, 201], nice=False, zero=False), axis=alt.Axis(**xkw))

    ykw = dict(values=YTICKS[i], labelExpr=label_expr(YTICKS[i], YLABELS[i]), grid=False)
    if c == 0:
        ykw.update(title=Y_LABEL, titleX=-37, titleY=PH / 2, titleBaseline="middle", titleAngle=270)
    else:
        ykw.update(title=None)
    yscale = alt.Scale(domain=YDOM[i], nice=False, zero=False)

    def Y(field):
        return alt.Y(f"{field}:Q", scale=yscale, axis=alt.Axis(**ykw))

    color = alt.Color("series:N", scale=alt.Scale(domain=SERIES, range=COLORS), legend=None)
    base = alt.Chart(df)
    band = base.mark_area(interpolate="step-after", opacity=0.17, clip=True).encode(
        x=xenc, y=Y("lo"), y2="hi:Q", color=color)
    lo_line = base.mark_line(interpolate="step-after", opacity=0.32, strokeWidth=1.1, clip=True).encode(
        x=xenc, y=Y("lo"), color=color)
    hi_line = base.mark_line(interpolate="step-after", opacity=0.32, strokeWidth=1.1, clip=True).encode(
        x=xenc, y=Y("hi"), color=color)
    med_line = base.mark_line(interpolate="step-after", strokeWidth=1.3, clip=True).encode(
        x=xenc, y=Y("med"), color=color)
    rule = alt.Chart(pd.DataFrame({"x": [INIT[i]]})).mark_rule(
        color="#b0b0b0", strokeDash=[4, 2.5], strokeWidth=1.4).encode(x=xenc)
    return alt.layer(band, lo_line, hi_line, med_line, rule).properties(
        width=PW, height=PH,
        title=alt.TitleParams(TITLES[i], font=TITLE_FONT, fontSize=13.5, fontWeight="normal",
                              color="black", offset=3))


chart = alt.concat(*[make_panel(i) for i in range(15)], columns=5,
                   spacing={"row": 26.5, "column": 33.5}, bounds="flush").properties(
    padding={"left": 3, "top": 0, "right": 5, "bottom": 0}
).configure_view(stroke="black", strokeWidth=1.3).configure_axis(
    domain=False, tickColor="black", tickSize=4, tickWidth=1,
    labelFont=TICK_FONT, labelFontSize=7, labelColor="black", labelPadding=3,
    titleFont=TITLE_FONT, titleFontWeight="normal", titleColor="black"
).configure_axisX(titleFontSize=11.5, titlePadding=4, labelPadding=6.5).configure_axisY(titleFontSize=13)

chart.save("out.html", embed_options={"renderer": "svg", "actions": False})
